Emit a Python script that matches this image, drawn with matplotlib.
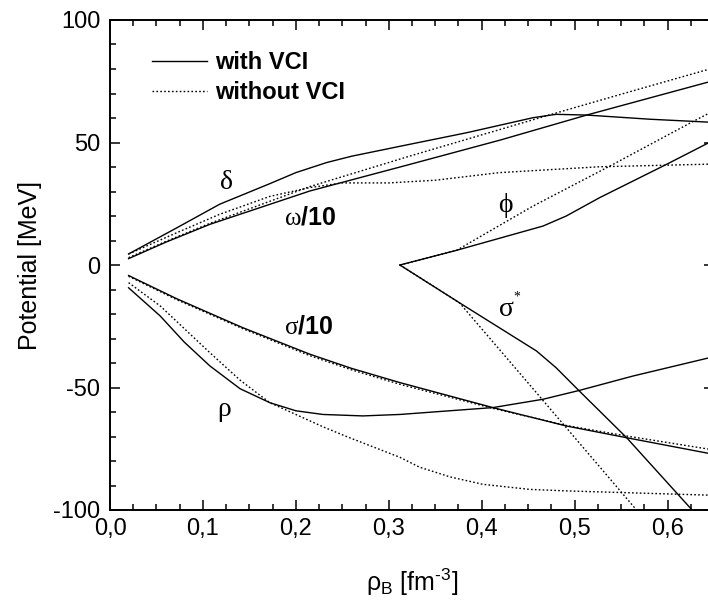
import numpy as np
import matplotlib
matplotlib.use("Agg")
import matplotlib.pyplot as plt
from matplotlib.lines import Line2D
from matplotlib.ticker import MultipleLocator, FuncFormatter

# =========================================================
# Visual settings
# =========================================================
plt.rcParams.update({
    "font.family":       ["Liberation Sans", "DejaVu Sans"],
    "font.size":         17,
    "mathtext.fontset":  "custom",
    "mathtext.rm":       "Liberation Sans",
    "mathtext.bf":       "Liberation Sans:bold",
    "mathtext.default":  "regular",
    "axes.linewidth":    1.4,
})

LW      = 1.0
DOTS    = (0, (1.2, 1.6))
GREEK   = ["Liberation Serif", "DejaVu Serif"]

# =========================================================
# Data (rho_B in fm^-3, potential in MeV)
# =========================================================
# delta
delta_vci_x   = [0.02, 0.072, 0.118, 0.172, 0.2, 0.233, 0.26, 0.287, 0.323, 0.384, 0.455, 0.48, 0.513, 0.581, 0.65]
delta_vci_y   = [4.5, 15.2, 24.8, 33.2, 37.7, 41.8, 44.4, 46.5, 49.3, 54.0, 60.1, 61.5, 61.2, 59.5, 58.2]
delta_novci_x = [0.02, 0.072, 0.118, 0.172, 0.215, 0.25, 0.3, 0.35, 0.419, 0.527, 0.65]
delta_novci_y = [4.5, 13.2, 20.7, 28.0, 31.6, 33.5, 33.5, 34.6, 37.7, 40.1, 41.2]

# omega / 10
omega_vci_x   = [0.02, 0.06, 0.1075, 0.215, 0.323, 0.42, 0.513, 0.65]
omega_vci_y   = [2.6, 9.3, 16.6, 30.2, 41.1, 51.0, 61.2, 75.3]
omega_novci_x = [0.02, 0.06, 0.1075, 0.215, 0.323, 0.476, 0.55, 0.65]
omega_novci_y = [3.0, 9.6, 17.0, 32.0, 44.5, 61.6, 69.7, 80.5]

# phi
phi_vci_x   = [0.312, 0.373, 0.466, 0.491, 0.527, 0.599, 0.65]
phi_vci_y   = [0.0, 6.0, 15.9, 20.0, 27.5, 41.1, 51.0]
phi_novci_x = [0.312, 0.373, 0.455, 0.541, 0.627, 0.65]
phi_novci_y = [0.0, 6.0, 24.0, 41.0, 58.5, 63.0]

# sigma*
sstar_vci_x   = [0.312, 0.376, 0.459, 0.48, 0.505, 0.556, 0.63]
sstar_vci_y   = [0.0, -15.4, -35.1, -41.9, -51.4, -70.5, -101.5]
sstar_novci_x = [0.312, 0.376, 0.455, 0.57]
sstar_novci_y = [0.0, -15.4, -50.4, -101.5]

# sigma / 10
sigma_vci_x   = [0.02, 0.072, 0.143, 0.215, 0.26, 0.312, 0.412, 0.491, 0.556, 0.65]
sigma_vci_y   = [-4.3, -13.8, -25.6, -36.4, -42.2, -48.0, -58.2, -65.7, -70.5, -77.3]
sigma_novci_x = [0.02, 0.072, 0.143, 0.215, 0.26, 0.312, 0.412, 0.491, 0.556, 0.65]
sigma_novci_y = [-4.6, -14.2, -26.0, -37.0, -42.8, -48.7, -58.5, -65.5, -69.8, -75.5]

# rho
rho_vci_x   = [0.02, 0.054, 0.08, 0.1075, 0.14, 0.172, 0.2, 0.229, 0.272, 0.312, 0.412, 0.466, 0.505, 0.563, 0.65]
rho_vci_y   = [-9.3, -20.8, -31.5, -41.2, -50.5, -56.2, -59.5, -61.0, -61.6, -61.0, -58.2, -54.8, -51.2, -45.3, -37.4]
rho_novci_x = [0.02, 0.054, 0.1075, 0.14, 0.172, 0.229, 0.2545, 0.312, 0.333, 0.366, 0.401, 0.452, 0.491, 0.65]
rho_novci_y = [-7.2, -16.7, -35.8, -47.0, -56.2, -66.0, -70.0, -78.5, -82.5, -86.5, -89.5, -91.6, -92.2, -94.0]

SOLID = [
    (delta_vci_x, delta_vci_y), (omega_vci_x, omega_vci_y), (phi_vci_x, phi_vci_y),
    (sstar_vci_x, sstar_vci_y), (sigma_vci_x, sigma_vci_y), (rho_vci_x, rho_vci_y),
]
DOTTED = [
    (delta_novci_x, delta_novci_y), (omega_novci_x, omega_novci_y), (phi_novci_x, phi_novci_y),
    (sstar_novci_x, sstar_novci_y), (sigma_novci_x, sigma_novci_y), (rho_novci_x, rho_novci_y),
]

LEGEND_LABELS = ["with VCI", "without VCI"]

# =========================================================
# Figure
# =========================================================
fig = plt.figure(figsize=(7.08, 6.08), dpi=100)
# the right spine sits just past the image edge in the original
ax = fig.add_axes([110 / 708, 98 / 608, 604 / 708, 490 / 608])

for xs, ys in SOLID:
    ax.plot(xs, ys, color="black", lw=LW, linestyle="-")
for xs, ys in DOTTED:
    ax.plot(xs, ys, color="black", lw=LW, linestyle=DOTS)

ax.set_xlim(0.0, 0.65)
ax.set_ylim(-100, 100)

ax.xaxis.set_major_locator(MultipleLocator(0.1))
ax.xaxis.set_minor_locator(MultipleLocator(0.025))
ax.yaxis.set_major_locator(MultipleLocator(50))
ax.yaxis.set_minor_locator(MultipleLocator(10))
ax.xaxis.set_major_formatter(FuncFormatter(lambda v, p: f"{v:.1f}".replace(".", ",")))
ax.yaxis.set_major_formatter(FuncFormatter(lambda v, p: f"{v:.0f}"))

ax.tick_params(which="both", direction="in", top=True, right=True, width=1.1, labelsize=17)
ax.tick_params(which="major", length=7.5)
ax.tick_params(which="minor", length=4.3)
ax.tick_params(axis="y", pad=7)
ax.tick_params(axis="x", pad=6)

ax.set_xlabel("ρ$_{B}$ [fm$^{\u20103}$]", fontsize=18, labelpad=19)
ax.set_ylabel("Potential [MeV]", fontsize=18, labelpad=8)

# curve labels
ax.text(0.125, 33.6, "δ", family=GREEK, fontsize=20, ha="center", va="center")
ax.text(0.1875, 19.0, r"ω$\mathbf{/10}$", family=GREEK, fontsize=18, ha="left", va="center")
ax.text(0.1875, -25.2, r"σ$\mathbf{/10}$", family=GREEK, fontsize=18, ha="left", va="center")
ax.text(0.123, -58.9, "ρ", family=GREEK, fontsize=20, ha="center", va="center")
ax.text(0.425, 24.1, "ϕ", family=GREEK, fontsize=20, ha="center", va="center")
ax.text(0.418, -17.4, r"σ$^{^{*}}$", family=GREEK, fontsize=20, ha="left", va="center")

handles = [Line2D([], [], color="black", lw=LW, linestyle="-"),
           Line2D([], [], color="black", lw=LW, linestyle=DOTS)]
ax.legend(handles, LEGEND_LABELS, loc="upper left", bbox_to_anchor=(0.0695, 0.936),
          frameon=False, borderpad=0, borderaxespad=0, handlelength=2.33,
          handletextpad=0.34, labelspacing=0.28,
          prop={"weight": "bold", "size": 17})

fig.savefig("out.png", dpi=100)
